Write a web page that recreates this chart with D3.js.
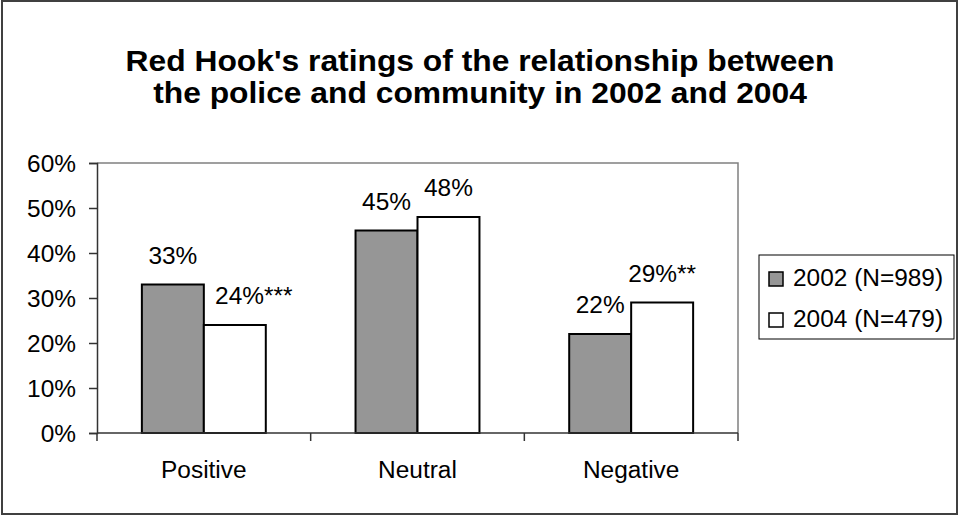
<!DOCTYPE html>
<html><head><meta charset="utf-8">
<script src="https://cdn.jsdelivr.net/npm/d3@7"></script>
<style>body{margin:0;background:#fff}svg{display:block}</style>
</head><body><svg id="c" width="960" height="517"></svg>
<script>
// ---- data ----
const categories = ["Positive", "Neutral", "Negative"];
const seriesNames = ["2002 (N=989)", "2004 (N=479)"];
const values2002 = [33, 45, 22];
const values2004 = [24, 48, 29];
const labels2002 = ["33%", "45%", "22%"];
const labels2004 = ["24%***", "48%", "29%**"];
const yTicks = [0, 10, 20, 30, 40, 50, 60];
const titleLines = ["Red Hook's ratings of the relationship between", "the police and community in 2002 and 2004"];

// ---- layout / style ----
const FONT = "Arial, 'Liberation Sans', Helvetica, sans-serif";
const fills = ["#969696", "#ffffff"];
const plot = {x0: 97, x1: 738, y0: 163, y1: 433};

const svg = d3.select("#c");
svg.append("rect").attr("x", 0).attr("y", 0).attr("width", 960).attr("height", 517).attr("fill", "#fff");
svg.append("rect").attr("x", 2).attr("y", 1).attr("width", 955).attr("height", 513)
  .attr("fill", "none").attr("stroke", "#404040").attr("stroke-width", 2);

function txt(g, x, y, s, size, anchor, weight, sx) {
  return g.append("text")
    .attr("transform", `translate(${x},${y}) scale(${sx || 1.04},1)`)
    .attr("text-anchor", anchor || "start")
    .attr("font-family", FONT).attr("font-size", size)
    .attr("font-weight", weight || "normal").attr("fill", "#000")
    .text(s);
}

// title
titleLines.forEach((t, i) => txt(svg, 480, 71 + i * 32, t, 30, "middle", "bold", 1.06));

const x = d3.scaleBand().domain(categories).range([plot.x0, plot.x1]).paddingInner(0.42).paddingOuter(0.21);
const xs = d3.scaleBand().domain(seriesNames).range([0, x.bandwidth()]);
const y = d3.scaleLinear().domain([0, 60]).range([plot.y1, plot.y0]);

// plot border (top & right, gray)
svg.append("path").attr("d", `M${plot.x0},${plot.y0}H${plot.x1}V${plot.y1}`)
  .attr("fill", "none").attr("stroke", "#808080").attr("stroke-width", 1.5);

// bars
const series = [values2002, values2004];
const labels = [labels2002, labels2004];
series.forEach((vals, si) => {
  svg.append("g").selectAll("rect").data(vals).join("rect")
    .attr("x", (d, i) => x(categories[i]) + xs(seriesNames[si]))
    .attr("y", d => y(d))
    .attr("width", xs.bandwidth())
    .attr("height", d => y(0) - y(d))
    .attr("fill", fills[si]).attr("stroke", "#000").attr("stroke-width", 2);
});

// value labels
const labelNudge = [[0, 0, 0], [19, 0, 0]];
series.forEach((vals, si) => {
  vals.forEach((v, i) => {
    const cx = x(categories[i]) + xs(seriesNames[si]) + xs.bandwidth() / 2 + labelNudge[si][i];
    txt(svg, cx, y(v) - 21, labels[si][i], 23.5, "middle");
  });
});

// y axis
const yAxis = d3.axisLeft(y).tickValues(yTicks).tickFormat(d => d + "%").tickSize(8).tickPadding(0);
const ya = svg.append("g").attr("transform", `translate(${plot.x0},0)`).call(yAxis);
ya.select(".domain").attr("stroke", "#333").attr("stroke-width", 1.5);
ya.selectAll(".tick line").attr("stroke", "#333").attr("stroke-width", 1.5);
ya.selectAll(".tick text").remove();
yTicks.forEach(t => txt(ya, -21, y(t) + 8.5, t + "%", 23.5, "end"));

// x axis
const xa = svg.append("g").attr("transform", `translate(0,${plot.y1})`);
xa.append("line").attr("x1", plot.x0).attr("x2", plot.x1).attr("stroke", "#333").attr("stroke-width", 1.5);
const edges = [plot.x0].concat(categories.map((c, i) => plot.x0 + (i + 1) * x.step()));
edges.forEach(e => xa.append("line").attr("x1", e).attr("x2", e).attr("y1", 0).attr("y2", 8)
  .attr("stroke", "#333").attr("stroke-width", 1.5));
categories.forEach(c => txt(xa, x(c) + x.bandwidth() / 2, 45, c, 23.5, "middle"));

// legend
const lg = svg.append("g");
lg.append("rect").attr("x", 759).attr("y", 255).attr("width", 195).attr("height", 84)
  .attr("fill", "#fff").attr("stroke", "#000").attr("stroke-width", 1);
seriesNames.forEach((n, i) => {
  lg.append("rect").attr("x", 769).attr("y", 272 + i * 41).attr("width", 14).attr("height", 14)
    .attr("fill", fills[i]).attr("stroke", "#000").attr("stroke-width", 1.5);
  txt(lg, 793, 286 + i * 41, n, 23.5, "start");
});
</script></body></html>
